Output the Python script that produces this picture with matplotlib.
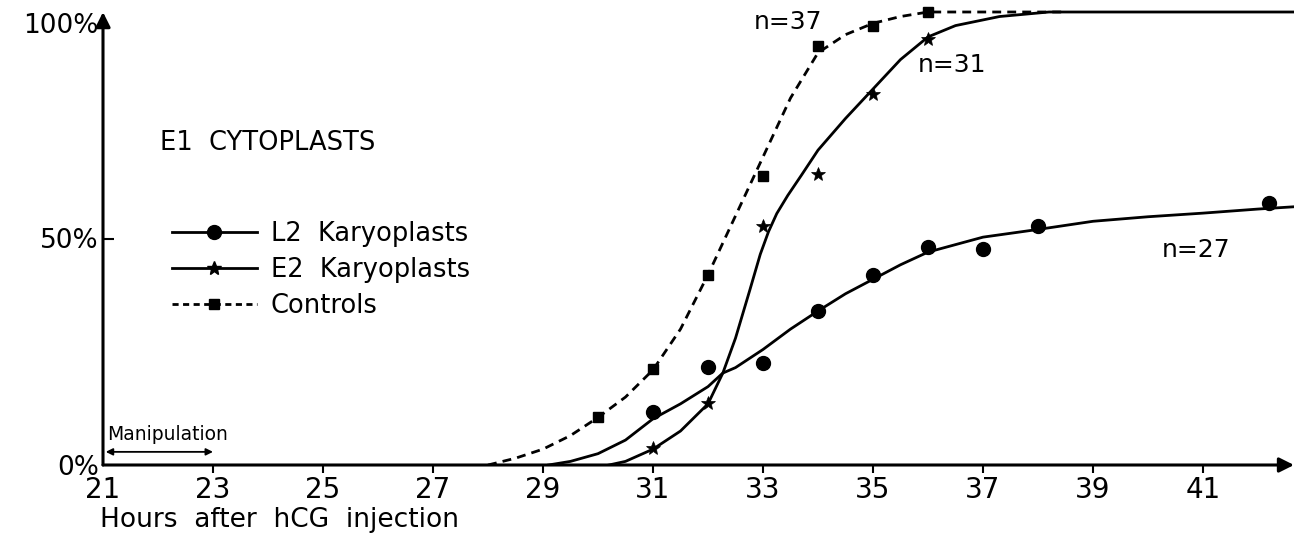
import matplotlib.pyplot as plt
import matplotlib.transforms as mtransforms
from matplotlib.lines import Line2D

# measured points (hours after hCG, % of cells)
l2_hours = [31, 32, 33, 34, 35, 36, 37, 38, 42.2]
l2_pct = [11.8, 21.7, 22.6, 33.9, 42.0, 48.1, 47.7, 52.8, 57.9]

e2_hours = [31, 32, 33, 34, 35, 36]
e2_pct = [3.8, 13.7, 52.8, 64.3, 82.0, 94.0]

ctrl_hours = [30, 31, 32, 33, 34, 35, 36]
ctrl_pct = [10.6, 21.3, 42.0, 63.9, 92.5, 97.0, 100.0]

# hand-drawn fitted curves
l2_curve_h = [29.1, 29.5, 30, 30.5, 31, 31.5, 32, 32.27, 32.5, 33, 33.5, 34, 34.5,
              35, 35.5, 36, 37, 38, 39, 40, 41, 42, 42.65]
l2_curve_pct = [0, 0.8, 2.5, 5.5, 10.2, 13.5, 17.3, 20.3, 21.5, 25.5, 30, 34, 37.8,
                 41, 44.2, 47, 50.3, 52, 53.8, 54.8, 55.6, 56.5, 57]

e2_curve_h = [30.2, 30.5, 31, 31.5, 32, 32.27, 32.5, 32.76, 32.95, 33.1, 33.25, 33.45,
              33.7, 34, 34.5, 35, 35.5, 36, 36.5, 37.3, 38.2, 42.65]
e2_curve_pct = [0, 0.8, 3.5, 7.5, 13.5, 20.3, 28, 38.6, 46.5, 51.5, 55.5, 59.5,
                64, 69.5, 76.5, 83, 89.5, 94.5, 97, 99, 100, 100]

ctrl_curve_h = [28, 28.5, 29, 29.5, 30, 30.5, 31, 31.5, 32, 32.5, 33, 33.5, 34, 34.5,
                35, 35.5, 36, 37, 38.5]
ctrl_curve_pct = [0, 1.5, 3.5, 6.5, 10.5, 15, 21, 30, 42, 55, 68, 81, 91, 95,
                  97.5, 99, 100, 100, 100]

x_ticks = [21, 23, 25, 27, 29, 31, 33, 35, 37, 39, 41]
y_ticks = [0, 50, 100]
y_labels = ["0%", "50%", "100%"]

plt.rcParams["font.family"] = ["DejaVu Sans"]

W, H = 1294, 542
fig = plt.figure(figsize=(W / 100, H / 100), dpi=100)
ax = fig.add_axes([103 / W, 77 / H, 1191 / W, 465 / H])
ax.set_xlim(21, 21 + 1191 / 55)
ax.set_ylim(0, 465 / 4.53)
for s in ax.spines.values():
    s.set_visible(False)

lw = 2.0
ax.plot(l2_curve_h, l2_curve_pct, color="black", lw=lw)
ax.plot(e2_curve_h, e2_curve_pct, color="black", lw=lw)
ax.plot(ctrl_curve_h, ctrl_curve_pct, color="black", lw=lw, linestyle=(0, (3.2, 2.2)))

ax.plot(l2_hours, l2_pct, "o", color="black", ms=10, clip_on=False)
ax.plot(e2_hours, e2_pct, "*", color="black", ms=10, mew=0.5)
ax.plot(ctrl_hours, ctrl_pct, "s", color="black", ms=7)

# axes drawn as arrows
ax.annotate("", xy=(1.0, 0), xytext=(0, 0), xycoords="axes fraction",
            arrowprops=dict(arrowstyle="-|>", color="black", lw=2.2,
                            mutation_scale=22, shrinkA=0, shrinkB=0))
ax.annotate("", xy=(0, 0.974), xytext=(0, 0), xycoords="axes fraction",
            arrowprops=dict(arrowstyle="-|>", color="black", lw=2.2,
                            mutation_scale=22, shrinkA=0, shrinkB=0))

ax.set_xticks(x_ticks)
ax.set_xticklabels([str(t) for t in x_ticks], fontsize=20)
ax.tick_params(axis="x", direction="out", length=6, width=1.5, pad=2)
ax.set_yticks(y_ticks)
ax.set_yticklabels(y_labels, fontsize=19)
ax.tick_params(axis="y", direction="in", length=8, width=1.5, pad=3)
yt = ax.yaxis.get_major_ticks()
yt[0].tick1line.set_visible(False)
yt[2].tick1line.set_visible(False)
xt = ax.xaxis.get_major_ticks()
xt[0].tick1line.set_visible(False)
# 100% label sits just below the arrow head
lab100 = ax.get_yticklabels()[2]
lab100.set_transform(lab100.get_transform() + mtransforms.ScaledTranslation(0, -11 / 100, fig.dpi_scale_trans))

fig.text(100 / W, 1 - 520 / H, "Hours  after  hCG  injection", fontsize=19,
         ha="left", va="center")

ax.text((160 - 103) / 1191, 1 - 143 / 465, "E1  CYTOPLASTS", transform=ax.transAxes,
        fontsize=18.5, ha="left", va="center")

# manipulation period
ax.annotate("", xy=(23, 2.9), xytext=(21.05, 2.9),
            arrowprops=dict(arrowstyle="<|-|>", color="black", lw=1.3,
                            mutation_scale=10, shrinkA=0, shrinkB=0))
ax.text(21.07, 6.7, "Manipulation", fontsize=13.5, ha="left", va="center")

ax.text(33.45, 97.8, "n=37", fontsize=18, ha="center", va="center")
ax.text(36.44, 88.3, "n=31", fontsize=18, ha="center", va="center")
ax.text(40.87, 47.5, "n=27", fontsize=18, ha="center", va="center")

handles = [
    Line2D([], [], color="black", lw=lw, marker="o", ms=10),
    Line2D([], [], color="black", lw=lw, marker="*", ms=10),
    Line2D([], [], color="black", lw=lw, marker="s", ms=7, linestyle=(0, (2.2, 1.6))),
]
ax.legend(handles, ["L2  Karyoplasts", "E2  Karyoplasts", "Controls"],
          loc="upper left", bbox_to_anchor=((172 - 103) / 1191, 1 - 221 / 465),
          frameon=False, fontsize=18.5, handlelength=3.3, handletextpad=0.55,
          labelspacing=0.38, borderpad=0, borderaxespad=0, numpoints=1)

fig.savefig("out.png", dpi=100)
